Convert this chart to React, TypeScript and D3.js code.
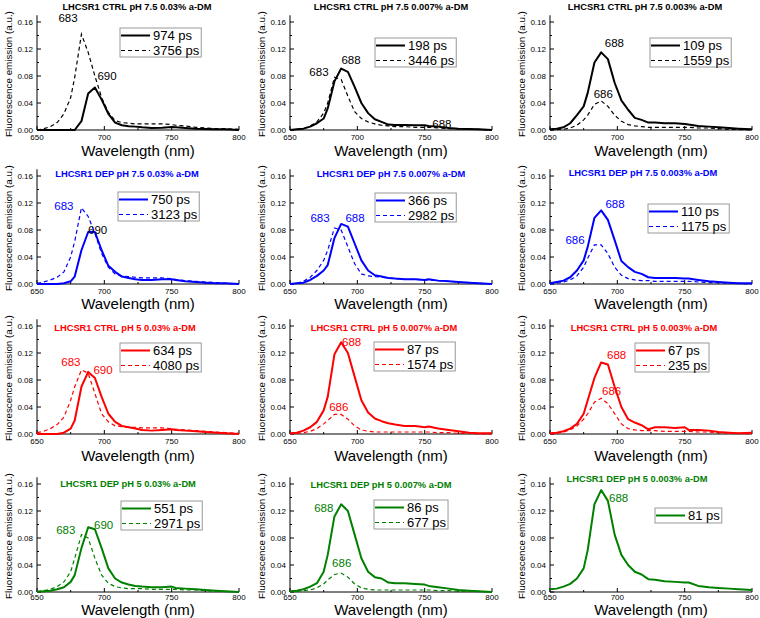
import React from 'react';
import * as d3 from 'd3';

// ---------- DATA ----------
const wavelengths = [650, 655, 660, 665, 670, 675, 678, 683, 688, 693, 698, 703, 708, 713, 718, 723, 728, 735, 743, 750, 753, 760, 768, 775, 783, 790, 800];

const titles = [
  'LHCSR1 CTRL pH 7.5 0.03% a-DM', 'LHCSR1 CTRL pH 7.5 0.007% a-DM', 'LHCSR1 CTRL pH 7.5 0.003% a-DM',
  'LHCSR1 DEP pH 7.5 0.03% a-DM', 'LHCSR1 DEP pH 7.5 0.007% a-DM', 'LHCSR1 DEP pH 7.5 0.003% a-DM',
  'LHCSR1 CTRL pH 5 0.03% a-DM', 'LHCSR1 CTRL pH 5 0.007% a-DM', 'LHCSR1 CTRL pH 5 0.003% a-DM',
  'LHCSR1 DEP pH 5 0.03% a-DM', 'LHCSR1 DEP pH 5 0.007% a-DM', 'LHCSR1 DEP pH 5 0.003% a-DM',
];

const solidLabels = ['974 ps', '198 ps', '109 ps', '750 ps', '366 ps', '110 ps', '634 ps', '87 ps', '67 ps', '551 ps', '86 ps', '81 ps'];
const dashedLabels = ['3756 ps', '3446 ps', '1559 ps', '3123 ps', '2982 ps', '1175 ps', '4080 ps', '1574 ps', '235 ps', '2971 ps', '677 ps', null];

const ctrl75_003_fast = [0, 0, 0, 0, 0, 0, 0, 0.013, 0.054, 0.063, 0.045, 0.024, 0.011, 0.007, 0.0055, 0.005, 0.004, 0.003, 0.0035, 0.0045, 0.004, 0.003, 0.002, 0.0015, 0.001, 0.001, 0];
const ctrl75_003_slow = [0, 0.002, 0.005, 0.011, 0.024, 0.048, 0.078, 0.142, 0.115, 0.08, 0.048, 0.026, 0.014, 0.011, 0.01, 0.009, 0.009, 0.009, 0.009, 0.008, 0.007, 0.006, 0.004, 0.003, 0.002, 0.002, 0.001];
const ctrl75_0007_fast = [0, 0.001, 0.002, 0.005, 0.01, 0.017, 0.032, 0.072, 0.091, 0.086, 0.064, 0.04, 0.025, 0.016, 0.012, 0.008, 0.0075, 0.0075, 0.007, 0.007, 0.006, 0.005, 0.003, 0.002, 0.0015, 0.001, 0];
const ctrl75_0007_slow = [0, 0.001, 0.002, 0.006, 0.012, 0.025, 0.04, 0.078, 0.075, 0.05, 0.027, 0.017, 0.012, 0.009, 0.007, 0.006, 0.005, 0.005, 0.004, 0.004, 0.004, 0.003, 0.002, 0.002, 0.001, 0.001, 0];
const ctrl75_0003_fast = [0.001, 0.002, 0.004, 0.01, 0.022, 0.035, 0.055, 0.1, 0.115, 0.105, 0.07, 0.044, 0.03, 0.018, 0.015, 0.011, 0.011, 0.01, 0.01, 0.009, 0.008, 0.006, 0.005, 0.004, 0.003, 0.002, 0.001];
const ctrl75_0003_slow = [0, 0.001, 0.001, 0.003, 0.007, 0.015, 0.022, 0.038, 0.043, 0.035, 0.022, 0.013, 0.008, 0.006, 0.005, 0.004, 0.004, 0.004, 0.004, 0.004, 0.004, 0.003, 0.003, 0.002, 0.001, 0.001, 0];

const dep75_003_fast = [0, 0, 0, 0, 0.001, 0.004, 0.011, 0.05, 0.077, 0.077, 0.05, 0.027, 0.018, 0.011, 0.009, 0.007, 0.006, 0.006, 0.007, 0.007, 0.006, 0.004, 0.003, 0.002, 0.001, 0.001, 0];
const dep75_003_slow = [0.001, 0.003, 0.006, 0.01, 0.018, 0.04, 0.063, 0.113, 0.1, 0.075, 0.045, 0.025, 0.015, 0.012, 0.011, 0.01, 0.009, 0.009, 0.009, 0.008, 0.007, 0.005, 0.004, 0.003, 0.002, 0.001, 0];
const dep75_0007_fast = [0, 0.001, 0.002, 0.006, 0.012, 0.02, 0.028, 0.068, 0.089, 0.085, 0.06, 0.035, 0.02, 0.013, 0.011, 0.009, 0.008, 0.007, 0.007, 0.006, 0.007, 0.005, 0.004, 0.003, 0.002, 0.001, 0];
const dep75_0007_slow = [0, 0.001, 0.004, 0.01, 0.02, 0.035, 0.05, 0.083, 0.08, 0.055, 0.03, 0.015, 0.012, 0.011, 0.01, 0.009, 0.008, 0.007, 0.007, 0.006, 0.006, 0.005, 0.004, 0.003, 0.002, 0.001, 0];
const dep75_0003_fast = [0.001, 0.003, 0.005, 0.01, 0.02, 0.035, 0.055, 0.098, 0.109, 0.095, 0.065, 0.034, 0.025, 0.018, 0.015, 0.01, 0.009, 0.009, 0.009, 0.008, 0.008, 0.006, 0.004, 0.003, 0.002, 0.001, 0.001];
const dep75_0003_slow = [0, 0.001, 0.003, 0.006, 0.012, 0.025, 0.038, 0.058, 0.058, 0.045, 0.025, 0.013, 0.008, 0.006, 0.005, 0.005, 0.004, 0.004, 0.004, 0.004, 0.004, 0.003, 0.002, 0.002, 0.001, 0.001, 0];

const ctrl5_003_fast = [0, 0, 0, 0, 0.002, 0.008, 0.02, 0.07, 0.092, 0.083, 0.055, 0.03, 0.018, 0.012, 0.01, 0.008, 0.006, 0.005, 0.006, 0.007, 0.006, 0.005, 0.004, 0.003, 0.002, 0.001, 0];
const ctrl5_003_slow = [0.002, 0.004, 0.008, 0.014, 0.025, 0.05, 0.07, 0.095, 0.09, 0.06, 0.03, 0.018, 0.012, 0.011, 0.01, 0.01, 0.009, 0.009, 0.009, 0.008, 0.007, 0.006, 0.005, 0.004, 0.003, 0.002, 0.001];
const ctrl5_0007_fast = [0.001, 0.002, 0.005, 0.01, 0.018, 0.035, 0.055, 0.118, 0.136, 0.12, 0.085, 0.05, 0.032, 0.023, 0.019, 0.016, 0.014, 0.012, 0.012, 0.01, 0.011, 0.008, 0.006, 0.004, 0.002, 0.001, 0.001];
const ctrl5_0007_slow = [0, 0.001, 0.002, 0.004, 0.008, 0.015, 0.02, 0.029, 0.029, 0.022, 0.012, 0.006, 0.004, 0.003, 0.003, 0.003, 0.003, 0.003, 0.003, 0.003, 0.003, 0.002, 0.002, 0.001, 0.001, 0, 0];
const ctrl5_0003_fast = [0.001, 0.002, 0.004, 0.008, 0.015, 0.03, 0.05, 0.083, 0.106, 0.103, 0.07, 0.04, 0.022, 0.017, 0.013, 0.007, 0.01, 0.01, 0.009, 0.01, 0.006, 0.006, 0.005, 0.003, 0.002, 0.001, 0.002];
const ctrl5_0003_slow = [0, 0.001, 0.003, 0.006, 0.012, 0.022, 0.03, 0.047, 0.053, 0.045, 0.03, 0.015, 0.008, 0.006, 0.005, 0.005, 0.005, 0.004, 0.004, 0.004, 0.004, 0.003, 0.003, 0.002, 0.001, 0.001, 0];

const dep5_003_fast = [0, 0.001, 0.002, 0.004, 0.007, 0.015, 0.025, 0.065, 0.096, 0.093, 0.065, 0.035, 0.02, 0.014, 0.011, 0.009, 0.008, 0.007, 0.007, 0.008, 0.006, 0.005, 0.004, 0.003, 0.002, 0.001, 0];
const dep5_003_slow = [0.001, 0.002, 0.004, 0.008, 0.015, 0.03, 0.05, 0.085, 0.08, 0.05, 0.025, 0.013, 0.008, 0.006, 0.005, 0.005, 0.005, 0.004, 0.004, 0.004, 0.004, 0.003, 0.003, 0.002, 0.001, 0.001, 0];
const dep5_0007_fast = [0.001, 0.002, 0.004, 0.008, 0.013, 0.03, 0.055, 0.112, 0.13, 0.12, 0.085, 0.05, 0.03, 0.022, 0.02, 0.014, 0.013, 0.013, 0.012, 0.011, 0.009, 0.007, 0.005, 0.003, 0.002, 0.001, 0];
const dep5_0007_slow = [0, 0.001, 0.002, 0.003, 0.006, 0.012, 0.018, 0.026, 0.028, 0.022, 0.012, 0.006, 0.004, 0.003, 0.003, 0.003, 0.003, 0.003, 0.003, 0.003, 0.003, 0.002, 0.002, 0.001, 0.001, 0.001, 0];
const dep5_0003_fast = [0.004, 0.005, 0.008, 0.012, 0.02, 0.035, 0.062, 0.13, 0.151, 0.135, 0.085, 0.055, 0.04, 0.03, 0.026, 0.019, 0.018, 0.016, 0.015, 0.014, 0.014, 0.009, 0.007, 0.006, 0.005, 0.004, 0.003];

const solidSeries = [ctrl75_003_fast, ctrl75_0007_fast, ctrl75_0003_fast, dep75_003_fast, dep75_0007_fast, dep75_0003_fast, ctrl5_003_fast, ctrl5_0007_fast, ctrl5_0003_fast, dep5_003_fast, dep5_0007_fast, dep5_0003_fast];
const dashedSeries = [ctrl75_003_slow, ctrl75_0007_slow, ctrl75_0003_slow, dep75_003_slow, dep75_0007_slow, dep75_0003_slow, ctrl5_003_slow, ctrl5_0007_slow, ctrl5_0003_slow, dep5_003_slow, dep5_0007_slow, null];

// peak annotations: [text, wavelength, value, colourOverride?]
const peakLabels = [
  [['683', 673, 0.1655], ['690', 702, 0.08]],
  [['683', 671.5, 0.086], ['688', 695.3, 0.104], ['688', 762.8, 0.009]],
  [['688', 697.8, 0.129], ['686', 689.6, 0.053]],
  [['683', 670, 0.1156], ['690', 695, 0.08, 'black']],
  [['683', 672.3, 0.098], ['688', 698.3, 0.098]],
  [['688', 698.3, 0.119], ['686', 668.6, 0.065]],
  [['683', 675.2, 0.107], ['690', 699, 0.095]],
  [['688', 695.8, 0.136], ['686', 686.2, 0.04]],
  [['688', 699.5, 0.117], ['686', 695.8, 0.064]],
  [['683', 671.4, 0.092], ['690', 699.5, 0.099]],
  [['688', 675.1, 0.124], ['686', 688.4, 0.043]],
  [['688', 701, 0.139]],
];

const xTicks = [650, 700, 750, 800];
const xMinor = [675, 725, 775];
const yTicks = [0, 0.04, 0.08, 0.12, 0.16];
const yMinor = [0.02, 0.06, 0.1, 0.14];

// ---------- LAYOUT / STYLE ----------
const rowColors = ['#000000', '#0000ff', '#ff0000', '#008000'];
const colLeft = [37, 290, 550];
const rowBottom = [130, 284, 434, 592];
const xLabelOff = [26, 25, 27, 23];
const tickLabOff = [10, 9.5, 10, 8];
const plotW = 202;
const yMaxVal = 0.17;
const pxPerUnit = 675;
const titleOff = [[-1, -123.5], [0, -123], [-6, -123], [-11, -110], [0, -110], [-8, -111], [-13, -106], [-7, -106], [-7, -106], [-10, -108], [-10, -107], [-14, -113]];
const legendOff = [[83, -102], [85, -92], [100, -92], [81, -92], [85, -91], [98, -80], [83, -91], [84, -92], [85, -91], [84, -91], [84, -92], [105, -84]];

const FONT = "'Liberation Sans', Arial, sans-serif";

const charW: Record<string, number> = { ' ': 0.278, p: 0.556, s: 0.5 };
const textWidth = (t: string, size: number) =>
  t.split('').reduce((a, c) => a + (charW[c] ?? 0.556), 0) * size;

function Panel({ idx }: { idx: number }) {
  const row = Math.floor(idx / 3);
  const col = idx % 3;
  const color = rowColors[row];
  const left = colLeft[col];
  const bottom = rowBottom[row];
  const x = d3.scaleLinear().domain([650, 800]).range([left, left + plotW]);
  const y = d3.scaleLinear().domain([0, yMaxVal]).range([bottom, bottom - yMaxVal * pxPerUnit]);
  const line = d3.line<number>().x((_, i) => x(wavelengths[i])).y((v) => y(v));
  const solid = solidSeries[idx];
  const dashed = dashedSeries[idx];
  const cx = left + plotW / 2;
  const [tdx, tdy] = titleOff[idx];
  const [ldx, ldy] = legendOff[idx];
  const entries: { label: string; dash: boolean }[] = [{ label: solidLabels[idx], dash: false }];
  if (dashedLabels[idx]) entries.push({ label: dashedLabels[idx] as string, dash: true });
  const legFs = 13;
  const maxTW = Math.max(...entries.map((e) => textWidth(e.label, legFs)));
  const lx = left + ldx;
  const ly = bottom + ldy;
  const lw = 33 + maxTW + 2;
  const lh = entries.length === 2 ? 29 : 15;
  const tickLabY = bottom + tickLabOff[row];

  return (
    <g>
      {/* axes */}
      <line x1={x(650)} x2={x(800)} y1={bottom} y2={bottom} stroke="#000" strokeWidth={1} />
      <line x1={left} x2={left} y1={bottom} y2={y(yMaxVal)} stroke="#000" strokeWidth={1} />
      {xTicks.map((t) => (
        <g key={'xt' + t}>
          <line x1={x(t)} x2={x(t)} y1={bottom} y2={bottom - 4} stroke="#000" />
          <text x={x(t)} y={tickLabY} fontSize={8} textAnchor="middle" fontFamily={FONT}>{t}</text>
        </g>
      ))}
      {xMinor.map((t) => (
        <line key={'xm' + t} x1={x(t)} x2={x(t)} y1={bottom} y2={bottom - 2} stroke="#000" />
      ))}
      {yTicks.map((t) => (
        <g key={'yt' + t}>
          <line x1={left} x2={left + 4} y1={y(t)} y2={y(t)} stroke="#000" />
          <text x={left - 4} y={y(t) + 3} fontSize={8} textAnchor="end" fontFamily={FONT}>{t.toFixed(2)}</text>
        </g>
      ))}
      {yMinor.map((t) => (
        <line key={'ym' + t} x1={left} x2={left + 2} y1={y(t)} y2={y(t)} stroke="#000" />
      ))}
      {/* axis titles */}
      <text x={cx} y={bottom + xLabelOff[row]} fontSize={15} textAnchor="middle" fontFamily={FONT}>Wavelength (nm)</text>
      <text
        transform={`translate(${left - 29},${(bottom + y(0.16)) / 2 - 2}) rotate(-90)`}
        fontSize={9.8}
        textAnchor="middle"
        dominantBaseline="central"
        fontFamily={FONT}
      >
        Fluorescence emission (a.u.)
      </text>
      {/* title */}
      <text x={cx + tdx} y={bottom + tdy} fontSize={9.3} fontWeight="bold" textAnchor="middle" dominantBaseline="central" fill={color} fontFamily={FONT}>
        {titles[idx]}
      </text>
      {/* curves */}
      {dashed && <path d={line(dashed) as string} fill="none" stroke={color} strokeWidth={1.2} strokeDasharray="4,3" />}
      <path d={line(solid) as string} fill="none" stroke={color} strokeWidth={2} strokeLinejoin="round" />
      {/* peak labels */}
      {peakLabels[idx].map((p: any, i: number) => (
        <text key={'pk' + i} x={x(p[1])} y={y(p[2])} fontSize={11.5} textAnchor="middle" dominantBaseline="central" fill={p[3] ?? color} fontFamily={FONT}>
          {p[0]}
        </text>
      ))}
      {/* legend */}
      <rect x={lx} y={ly} width={lw} height={lh} fill="#fff" stroke="#999" strokeWidth={1} />
      {entries.map((e, i) => {
        const ey = ly + 7.5 + i * 15;
        return (
          <g key={'lg' + i}>
            <line x1={lx + 1} x2={lx + 30} y1={ey} y2={ey} stroke={color} strokeWidth={e.dash ? 1.2 : 2} strokeDasharray={e.dash ? '4,3' : undefined} />
            <text x={lx + 33} y={ey} fontSize={legFs} dominantBaseline="central" fontFamily={FONT} fill="#000">{e.label}</text>
          </g>
        );
      })}
    </g>
  );
}

export default function App() {
  return (
    <svg width={760} height={618} style={{ position: 'absolute', left: 0, top: 0, background: '#fff' }}>
      <rect width={760} height={618} fill="#fff" />
      {titles.map((_, i) => (
        <Panel key={i} idx={i} />
      ))}
    </svg>
  );
}
